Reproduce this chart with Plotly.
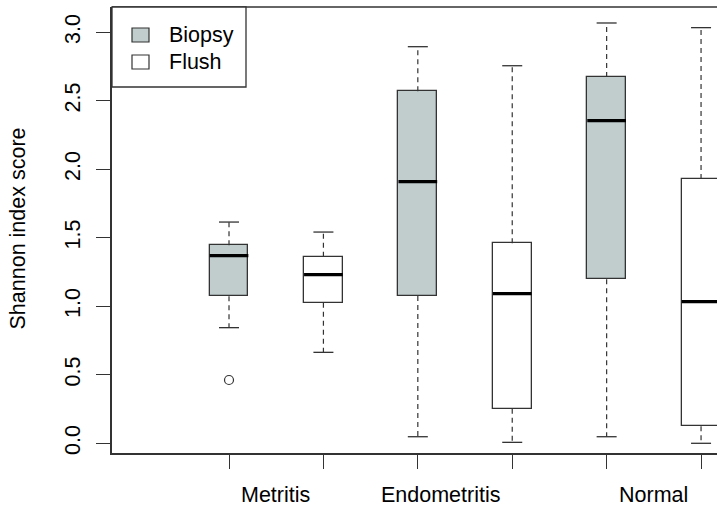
import plotly.graph_objects as go

# ---- data ----
groups = ["Metritis", "Metritis", "Endometritis", "Endometritis", "Normal", "Normal"]
sample_type = ["Biopsy", "Flush", "Biopsy", "Flush", "Biopsy", "Flush"]
positions = [1, 2, 3, 4, 5, 6]
lower_whisker = [0.844, 0.664, 0.048, 0.007, 0.048, 0.000]
q1 = [1.073, 1.026, 1.075, 0.253, 1.197, 0.124]
median = [1.370, 1.231, 1.910, 1.092, 2.355, 1.034]
q3 = [1.445, 1.362, 2.569, 1.460, 2.674, 1.929]
upper_whisker = [1.615, 1.542, 2.895, 2.756, 3.068, 3.034]
outlier_pos = [1]
outlier_val = [0.462]

group_labels = ["Metritis", "Endometritis", "Normal"]
group_label_x = [1.49, 3.25, 5.5]
y_ticks = [0.0, 0.5, 1.0, 1.5, 2.0, 2.5, 3.0]
y_tick_labels = ["0.0", "0.5", "1.0", "1.5", "2.0", "2.5", "3.0"]
legend_labels = ["Biopsy", "Flush"]

# ---- style ----
FONT = "Liberation Sans, Arial, sans-serif"
FS = 21.5
fill_colors = {"Biopsy": "#C1CDCD", "Flush": "#FFFFFF"}
EDGE = "#333333"
BOXW = 0.41
CAPW = 0.106

fig = go.Figure()

# box bodies
fig.add_trace(go.Bar(
    x=positions,
    y=[b - a for a, b in zip(q1, q3)],
    base=q1,
    width=BOXW,
    marker=dict(color=[fill_colors[s] for s in sample_type],
                line=dict(color=EDGE, width=1.3)),
    showlegend=False, hoverinfo="skip",
))

# whiskers (dashed)
wx, wy = [], []
for p, lo, a, b, hi in zip(positions, lower_whisker, q1, q3, upper_whisker):
    wx += [p, p, None, p, p, None]
    wy += [b, hi, None, a, lo, None]
fig.add_trace(go.Scatter(x=wx, y=wy, mode="lines",
                         line=dict(color="#333333", width=1.2, dash="5px,4px"),
                         showlegend=False, hoverinfo="skip"))

# whisker caps
cx, cy = [], []
for p, lo, hi in zip(positions, lower_whisker, upper_whisker):
    cx += [p - CAPW, p + CAPW, None, p - CAPW, p + CAPW, None]
    cy += [hi, hi, None, lo, lo, None]
fig.add_trace(go.Scatter(x=cx, y=cy, mode="lines",
                         line=dict(color="#333333", width=1.3),
                         showlegend=False, hoverinfo="skip"))

# medians
mx, my = [], []
for p, m in zip(positions, median):
    mx += [p - BOXW / 2, p + BOXW / 2, None]
    my += [m, m, None]
fig.add_trace(go.Scatter(x=mx, y=my, mode="lines",
                         line=dict(color="#000000", width=3.2),
                         showlegend=False, hoverinfo="skip"))

# outliers
fig.add_trace(go.Scatter(x=outlier_pos, y=outlier_val, mode="markers",
                         marker=dict(symbol="circle-open", size=9,
                                     color="#333333", line=dict(width=1.2)),
                         showlegend=False, hoverinfo="skip"))

# ---- layout ----
W, H = 717, 512
ML, MR, MT, MB = 112, 0, 7, 59
fig.update_layout(
    width=W, height=H,
    margin=dict(l=ML, r=MR, t=MT, b=MB, pad=0),
    paper_bgcolor="white", plot_bgcolor="white",
    font=dict(family=FONT, size=FS, color="#000000"),
    showlegend=False,
    bargap=0,
)
fig.update_xaxes(
    range=[-0.2394, 6.169], showgrid=False, zeroline=False,
    showline=True, linecolor=EDGE, linewidth=1.5,
    tickmode="array", tickvals=positions, ticktext=["" for _ in positions],
    ticks="outside", ticklen=14, tickcolor=EDGE, tickwidth=1.3,
)
fig.update_yaxes(
    range=[-0.0708, 3.1847], showgrid=False, zeroline=False,
    showline=True, linecolor=EDGE, linewidth=1.5,
    tickmode="array", tickvals=y_ticks, ticktext=y_tick_labels,
    ticks="outside", ticklen=14, tickcolor=EDGE, tickwidth=1.3,
    tickangle=-90, tickfont=dict(size=FS), ticklabelstandoff=8,
)

pw = W - ML - MR
ph = H - MT - MB


def px_x(x):
    return (x - ML) / pw


def px_y(y):
    return (H - MB - y) / ph


shapes = []
# top frame line
shapes.append(dict(type="line", xref="paper", yref="paper", x0=0, x1=1.01, y0=1, y1=1,
                   line=dict(color=EDGE, width=1.5)))
# legend box
shapes.append(dict(type="rect", xref="paper", yref="paper",
                   x0=0, x1=px_x(246), y0=px_y(87), y1=1,
                   line=dict(color=EDGE, width=1.3), fillcolor="white"))
annotations = []
leg_y = [35, 62]
for lab, yc in zip(legend_labels, leg_y):
    shapes.append(dict(type="rect", xref="paper", yref="paper",
                       x0=px_x(132), x1=px_x(149), y0=px_y(yc + 7), y1=px_y(yc - 7),
                       line=dict(color=EDGE, width=1.2), fillcolor=fill_colors[lab]))
    annotations.append(dict(text=lab, xref="paper", yref="paper", x=px_x(167), y=px_y(yc),
                            xanchor="left", yanchor="middle", showarrow=False,
                            font=dict(size=FS, family=FONT)))

for lab, gx in zip(group_labels, group_label_x):
    annotations.append(dict(text=lab, xref="x", yref="paper", x=gx, y=px_y(495),
                            xanchor="center", yanchor="middle", showarrow=False,
                            font=dict(size=FS, family=FONT)))

annotations.append(dict(text="Shannon index score", xref="paper", yref="paper",
                        x=px_x(17.5), y=px_y(229), textangle=-90,
                        xanchor="center", yanchor="middle", showarrow=False,
                        font=dict(size=FS, family=FONT)))

fig.update_layout(shapes=shapes, annotations=annotations)

fig.write_html("out.html", config={"displayModeBar": False},
               post_script="document.body.style.margin='0px';document.body.style.overflow='hidden';")
